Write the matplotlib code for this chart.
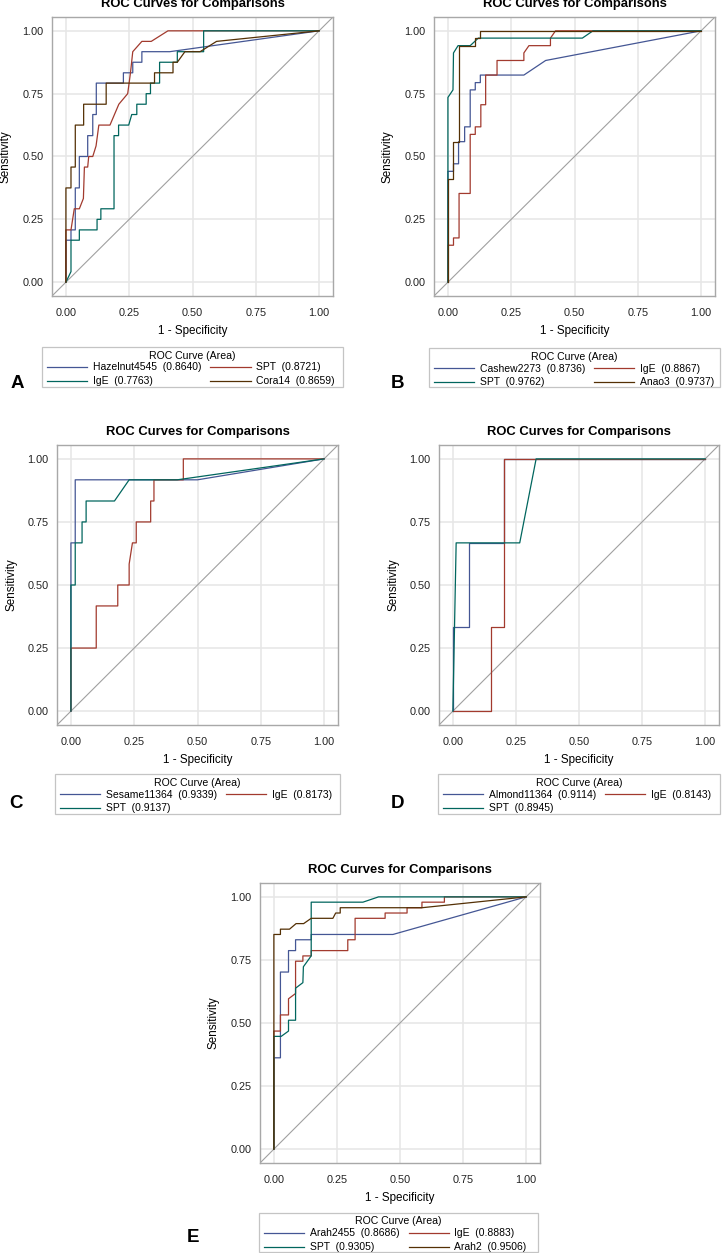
import matplotlib
matplotlib.use("Agg")
import matplotlib.pyplot as plt
from matplotlib.patches import Rectangle

plt.rcParams['font.family'] = ['Liberation Sans', 'DejaVu Sans']

# ---------------------------------------------------------------- data
# A : hazelnut
a_names = ["Hazelnut4545", "SPT", "IgE", "Cora14"]
a_auc = [0.8640, 0.8721, 0.7763, 0.8659]
a_fpr = [
    [0, 0, 0.02, 0.02, 0.037, 0.037, 0.053, 0.053, 0.086, 0.086, 0.106, 0.106,
     0.120, 0.120, 0.227, 0.227, 0.264, 0.264, 0.30, 0.30, 0.41, 1.0],
    [0, 0, 0.020, 0.033, 0.053, 0.069, 0.073, 0.086, 0.090, 0.106, 0.119, 0.130,
     0.174, 0.209, 0.244, 0.255, 0.264, 0.300, 0.337, 0.403, 1.0],
    [0, 0.02, 0.02, 0.053, 0.053, 0.123, 0.123, 0.138, 0.138, 0.19, 0.19, 0.208,
     0.208, 0.248, 0.26, 0.28, 0.28, 0.317, 0.317, 0.334, 0.334, 0.37, 0.37,
     0.44, 0.44, 0.544, 0.544, 1.0],
    [0, 0, 0.02, 0.02, 0.037, 0.037, 0.07, 0.07, 0.159, 0.159, 0.35, 0.35,
     0.423, 0.423, 0.44, 0.47, 0.53, 0.595, 1.0],
]
a_tpr = [
    [0, 0.167, 0.167, 0.208, 0.208, 0.375, 0.375, 0.5, 0.5, 0.583, 0.583, 0.667,
     0.667, 0.792, 0.792, 0.833, 0.833, 0.875, 0.875, 0.917, 0.917, 1.0],
    [0, 0.208, 0.208, 0.292, 0.292, 0.333, 0.458, 0.458, 0.5, 0.5, 0.542, 0.625,
     0.625, 0.708, 0.75, 0.833, 0.917, 0.958, 0.958, 1.0, 1.0],
    [0, 0.042, 0.167, 0.167, 0.208, 0.208, 0.25, 0.25, 0.292, 0.292, 0.583,
     0.583, 0.625, 0.625, 0.667, 0.667, 0.708, 0.708, 0.75, 0.75, 0.792, 0.792,
     0.875, 0.875, 0.917, 0.917, 1.0, 1.0],
    [0, 0.375, 0.375, 0.458, 0.458, 0.625, 0.625, 0.708, 0.708, 0.792, 0.792,
     0.833, 0.833, 0.875, 0.875, 0.917, 0.917, 0.958, 1.0],
]

# B : cashew
b_names = ["Cashew2273", "IgE", "SPT", "Anao3"]
b_auc = [0.8736, 0.8867, 0.9762, 0.9737]
b_fpr = [
    [0, 0, 0.022, 0.022, 0.042, 0.042, 0.066, 0.066, 0.088, 0.088, 0.108, 0.108,
     0.128, 0.128, 0.30, 0.386, 1.0],
    [0, 0, 0.022, 0.022, 0.044, 0.044, 0.088, 0.088, 0.108, 0.108, 0.13, 0.13,
     0.149, 0.149, 0.194, 0.194, 0.30, 0.30, 0.32, 0.405, 0.405, 0.425, 1.0],
    [0, 0, 0.020, 0.022, 0.040, 0.088, 0.12, 0.531, 0.573, 1.0],
    [0, 0, 0.022, 0.022, 0.042, 0.042, 0.108, 0.108, 0.128, 0.128, 1.0],
]
b_tpr = [
    [0, 0.441, 0.441, 0.471, 0.471, 0.559, 0.559, 0.618, 0.618, 0.765, 0.765,
     0.794, 0.794, 0.824, 0.824, 0.882, 1.0],
    [0, 0.147, 0.147, 0.176, 0.176, 0.353, 0.353, 0.588, 0.588, 0.618, 0.618,
     0.706, 0.706, 0.824, 0.824, 0.882, 0.882, 0.912, 0.941, 0.941, 0.971, 1.0, 1.0],
    [0, 0.735, 0.765, 0.912, 0.941, 0.941, 0.971, 0.971, 1.0, 1.0],
    [0, 0.412, 0.412, 0.559, 0.559, 0.941, 0.941, 0.971, 0.971, 1.0, 1.0],
]

# C : sesame
c_names = ["Sesame11364", "IgE", "SPT"]
c_auc = [0.9339, 0.8173, 0.9137]
c_fpr = [
    [0, 0, 0.017, 0.017, 0.50, 1.0],
    [0, 0, 0.10, 0.10, 0.185, 0.185, 0.23, 0.23, 0.243, 0.258, 0.258, 0.315,
     0.315, 0.328, 0.328, 0.444, 0.444, 1.0],
    [0, 0, 0.017, 0.017, 0.044, 0.044, 0.06, 0.06, 0.172, 0.23, 0.42, 1.0],
]
c_tpr = [
    [0, 0.667, 0.667, 0.917, 0.917, 1.0],
    [0, 0.25, 0.25, 0.417, 0.417, 0.5, 0.5, 0.583, 0.667, 0.667, 0.75, 0.75,
     0.833, 0.833, 0.917, 0.917, 1.0, 1.0],
    [0, 0.5, 0.5, 0.667, 0.667, 0.75, 0.75, 0.833, 0.833, 0.917, 0.917, 1.0],
]

# D : almond
d_names = ["Almond11364", "IgE", "SPT"]
d_auc = [0.9114, 0.8143, 0.8945]
d_fpr = [
    [0, 0, 0.063, 0.063, 0.203, 0.203, 1.0],
    [0, 0.152, 0.152, 0.203, 0.203, 1.0],
    [0, 0.013, 0.265, 0.33, 1.0],
]
d_tpr = [
    [0, 0.333, 0.333, 0.667, 0.667, 1.0, 1.0],
    [0, 0, 0.333, 0.333, 1.0, 1.0],
    [0, 0.667, 0.667, 1.0, 1.0],
]

# E : peanut
e_names = ["Arah2455", "IgE", "SPT", "Arah2"]
e_auc = [0.8686, 0.8883, 0.9305, 0.9506]
e_fpr = [
    [0, 0, 0.026, 0.026, 0.058, 0.058, 0.086, 0.086, 0.148, 0.148, 0.472, 1.0],
    [0, 0, 0.026, 0.026, 0.058, 0.058, 0.086, 0.086, 0.115, 0.115, 0.148, 0.148,
     0.293, 0.293, 0.322, 0.322, 0.441, 0.441, 0.528, 0.528, 0.587, 0.587,
     0.676, 0.676, 1.0],
    [0, 0, 0.029, 0.058, 0.058, 0.086, 0.086, 0.115, 0.117, 0.148, 0.148, 0.353,
     0.415, 1.0],
    [0, 0, 0.026, 0.026, 0.062, 0.088, 0.118, 0.148, 0.234, 0.245, 0.263, 0.263,
     0.587, 1.0],
]
e_tpr = [
    [0, 0.362, 0.362, 0.702, 0.702, 0.787, 0.787, 0.830, 0.830, 0.851, 0.851, 1.0],
    [0, 0.468, 0.468, 0.532, 0.532, 0.596, 0.617, 0.745, 0.745, 0.766, 0.766,
     0.787, 0.787, 0.830, 0.830, 0.915, 0.915, 0.936, 0.936, 0.957, 0.957,
     0.979, 0.979, 1.0, 1.0],
    [0, 0.447, 0.447, 0.468, 0.511, 0.511, 0.638, 0.66, 0.723, 0.766, 0.979,
     0.979, 1.0, 1.0],
    [0, 0.851, 0.851, 0.872, 0.872, 0.894, 0.894, 0.915, 0.915, 0.936, 0.936,
     0.957, 0.957, 1.0],
]

ticks = [0.0, 0.25, 0.5, 0.75, 1.0]
colors = ['#445694', '#A23A2E', '#01665E', '#543005']

# ---------------------------------------------------------------- layout (pixels)
W, H = 722, 1253
fig = plt.figure(figsize=(W / 100, H / 100), dpi=100)
fig.patch.set_facecolor('white')

def fx(px):
    return px / W

def fy(py):
    return 1 - py / H

def ftext(x, y, s, **kw):
    fig.text(fx(x), fy(y), s, **kw)

# letter, names, auc, fpr, tpr, frame (l,t,r,b), legend box (l,t,r,b), letter centre
panels = [
    ("A", a_names, a_auc, a_fpr, a_tpr, (52, 17, 333, 296), (42, 347, 343, 387), (17, 383)),
    ("B", b_names, b_auc, b_fpr, b_tpr, (434, 17, 715, 296), (429, 348, 720, 387), (398, 383)),
    ("C", c_names, c_auc, c_fpr, c_tpr, (57, 445, 338, 725), (55, 774, 340, 814), (16, 803)),
    ("D", d_names, d_auc, d_fpr, d_tpr, (439, 445, 719, 725), (438, 774, 720, 814), (398, 803)),
    ("E", e_names, e_auc, e_fpr, e_tpr, (260, 883, 540, 1163), (259, 1213, 538, 1252), (193, 1237)),
]

for letter, names, auc, fpr, tpr, frame, lbox, lpos in panels:
    l, t, r, b = frame
    ax = fig.add_axes([fx(l), fy(b), (r - l) / W, (b - t) / H])
    ax.set_xlim(-0.055, 1.055)
    ax.set_ylim(-0.055, 1.055)
    ax.set_xticks(ticks)
    ax.set_yticks(ticks)
    ax.set_xticklabels([f"{v:.2f}" for v in ticks])
    ax.set_yticklabels([f"{v:.2f}" for v in ticks])
    ax.tick_params(length=0, labelsize=7.8, colors='#222222')
    ax.tick_params(axis='x', pad=8.5)
    ax.tick_params(axis='y', pad=6)
    ax.grid(color='#e6e6e6', lw=1.1)
    ax.set_axisbelow(True)
    for sp in ax.spines.values():
        sp.set_color('#a8a8a8')
        sp.set_linewidth(1.0)
    ax.axline((0, 0), slope=1, color='#a0a0a0', lw=0.8, zorder=1.5)

    handles = []
    for i in range(len(names)):
        ln, = ax.plot(fpr[i], tpr[i], color=colors[i], lw=0.9,
                      label=f"{names[i]}  ({auc[i]:.4f})")
        handles.append(ln)

    # texts around the frame
    cx = (l + r) / 2
    ftext(cx, t - 12.5, "ROC Curves for Comparisons", ha='center', va='center',
          fontsize=9.4, fontweight='bold')
    ftext(cx, b + 35, "1 - Specificity", ha='center', va='center', fontsize=8.4)
    ftext(l - 46, (t + b) / 2, "Sensitivity", ha='center', va='center',
          rotation=90, fontsize=8.4)

    # legend box
    bl, bt, br, bb = lbox
    fig.patches.append(Rectangle((fx(bl), fy(bb)), (br - bl) / W, (bb - bt) / H,
                                 transform=fig.transFigure, fill=False,
                                 edgecolor='#c4c4c4', lw=0.9))
    ftext((bl + br) / 2, bt + 8.5, "ROC Curve (Area)", ha='center', va='center',
          fontsize=7.6)
    if len(handles) == 4:
        order = [0, 2, 1, 3]
    else:
        order = [0, 2, 1]
    fig.legend([handles[k] for k in order], [handles[k].get_label() for k in order],
               loc='upper left', bbox_to_anchor=(fx(bl + 5), fy(bt + 15.5)),
               ncol=2, frameon=False, fontsize=7.5, handlelength=3.85,
               handletextpad=0.55, columnspacing=0.87, labelspacing=0.38,
               borderpad=0, borderaxespad=0)

    ftext(lpos[0], lpos[1], letter, ha='center', va='center', fontsize=13.5,
          fontweight='bold')

fig.savefig("out.png", dpi=100, facecolor='white')
